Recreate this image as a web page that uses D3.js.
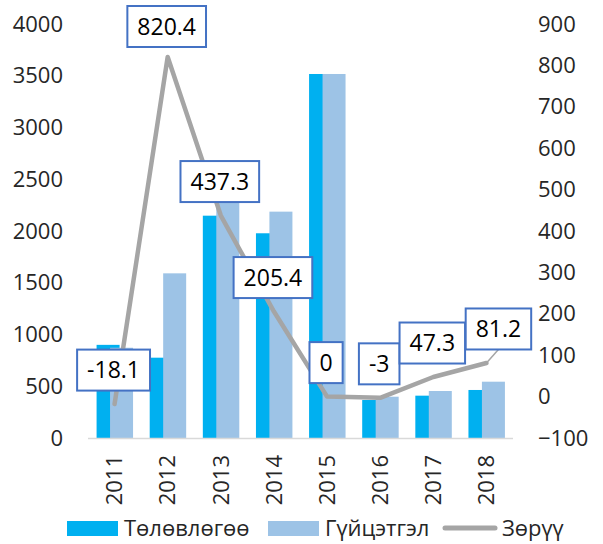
<!DOCTYPE html>
<html>
<head>
<meta charset="utf-8">
<script src="https://cdn.jsdelivr.net/npm/d3@7"></script>
<style>
  body { margin: 0; background: #fff; }
  text { font-family: "Open Sans", "Noto Sans", sans-serif; }
</style>
</head>
<body>
<svg id="chart" width="603" height="544"></svg>
<script>
const years = ["2011","2012","2013","2014","2015","2016","2017","2018"];
const planned = [900, 776, 2148, 1978, 3517, 367, 409, 464];     // Төлөвлөгөө
const actual  = [872, 1591, 2310, 2187, 3517, 399, 454, 544];    // Гүйцэтгэл
const diff    = [-18.1, 820.4, 437.3, 205.4, 0, -3, 47.3, 81.2]; // Зөрүү
const leftTicks  = [0, 500, 1000, 1500, 2000, 2500, 3000, 3500, 4000];
const rightTicks = [-100, 0, 100, 200, 300, 400, 500, 600, 700, 800, 900];
const seriesNames = ["Төлөвлөгөө", "Гүйцэтгэл", "Зөрүү"];
const colors = ["#00b0f0", "#9dc3e6", "#a5a5a5"];

const svg = d3.select("#chart");
const plotL = 88, plotR = 513, plotT = 24, plotB = 438;

const x = d3.scaleBand().domain(years).range([plotL, plotR]).padding(0);
const yL = d3.scaleLinear().domain([0, 4000]).range([plotB, plotT]);
const yR = d3.scaleLinear().domain([-100, 900]).range([plotB, plotT]);
const step = x.step();
const barW = step * 0.433;
const off = step * 0.122;
const cx = d => x(d) + step / 2;
const fmt = d3.format("d");

// left axis labels
const axL = d3.axisLeft(yL).tickValues(leftTicks).tickFormat(fmt).tickSize(0).tickPadding(0);
const gL = svg.append("g").attr("transform", `translate(63,0)`).call(axL);
gL.select(".domain").remove();
gL.selectAll("text").attr("font-size", 22).attr("fill", "#262626")
  .attr("font-family", "'Open Sans', sans-serif");

// right axis labels
const axR = d3.axisRight(yR).tickValues(rightTicks).tickFormat(fmt).tickSize(0).tickPadding(0);
const gR = svg.append("g").attr("transform", `translate(538,0)`).call(axR);
gR.select(".domain").remove();
gR.selectAll("text").attr("font-size", 22).attr("fill", "#262626")
  .attr("font-family", "'Open Sans', sans-serif");

// bars: planned first, actual overlapping on top
svg.append("g").selectAll("rect").data(years).join("rect")
  .attr("x", (d) => cx(d) - off - barW / 2)
  .attr("width", barW)
  .attr("y", (d, i) => yL(planned[i]))
  .attr("height", (d, i) => plotB - yL(planned[i]))
  .attr("fill", colors[0]);
svg.append("g").selectAll("rect").data(years).join("rect")
  .attr("x", (d) => cx(d) + off - barW / 2 + 0.5)
  .attr("width", barW)
  .attr("y", (d, i) => yL(actual[i]))
  .attr("height", (d, i) => plotB - yL(actual[i]))
  .attr("fill", colors[1]);

// x axis line
svg.append("line").attr("x1", plotL).attr("x2", plotR)
  .attr("y1", plotB + 0.5).attr("y2", plotB + 0.5)
  .attr("stroke", "#d9d9d9").attr("stroke-width", 1.5);

// x labels rotated
const axB = d3.axisBottom(x).tickSize(0).tickPadding(0);
const gB = svg.append("g").attr("transform", `translate(0,${plotB})`).call(axB);
gB.select(".domain").remove();
gB.selectAll("text")
  .attr("font-size", 22).attr("fill", "#262626")
  .attr("transform", "rotate(-90)")
  .attr("text-anchor", "end")
  .attr("x", -17).attr("y", 0).attr("dy", "0.35em")
  .attr("font-family", "'Open Sans', sans-serif");

// line
const line = d3.line().x((d, i) => cx(years[i])).y(d => yR(d));
svg.append("path").datum(diff).attr("d", line)
  .attr("fill", "none").attr("stroke", colors[2]).attr("stroke-width", 4.5)
  .attr("stroke-linejoin", "round").attr("stroke-linecap", "round");

// data labels
const lg = svg.append("g");
diff.forEach((v, i) => {
  const px = cx(years[i]), py = yR(v);
  const last = i === diff.length - 1;
  const lx = px + (last ? 12 : -1);
  let ly = py - 34;
  const g = lg.append("g");
  const t = g.append("text").text(String(v))
    .attr("font-size", 23).attr("fill", "#000")
    .attr("text-anchor", "middle").attr("dy", "0.35em");
  const w = t.node().getComputedTextLength() + 20;
  const h = 41;
  if (ly - h / 2 < 6) ly = 6 + h / 2;
  if (last) {
    lg.insert("line", "g").attr("x1", px).attr("y1", py)
      .attr("x2", lx).attr("y2", ly + h / 2)
      .attr("stroke", colors[2]).attr("stroke-width", 1.5);
  }
  g.attr("transform", `translate(${lx},${ly})`);
  g.insert("rect", "text").attr("x", -w / 2).attr("y", -h / 2)
    .attr("width", w).attr("height", h)
    .attr("fill", "#fff").attr("stroke", "#4472c4").attr("stroke-width", 2);
});

// legend
const leg = svg.append("g");
const legItems = [
  {x: 67, tx: 124},
  {x: 268, tx: 325},
  {x: 443, tx: 502}
];
const legY = 528;
legItems.forEach((it, i) => {
  if (i < 2) {
    leg.append("rect").attr("x", it.x).attr("y", legY - 7).attr("width", 51).attr("height", 15)
      .attr("fill", colors[i]);
  } else {
    leg.append("line").attr("x1", it.x + 2).attr("x2", it.x + 52)
      .attr("y1", legY).attr("y2", legY)
      .attr("stroke", colors[2]).attr("stroke-width", 5).attr("stroke-linecap", "round");
  }
  leg.append("text").attr("x", it.tx).attr("y", legY).attr("dy", "0.35em")
    .attr("font-size", 22).attr("fill", "#262626").text(seriesNames[i]);
});
</script>
</body>
</html>
